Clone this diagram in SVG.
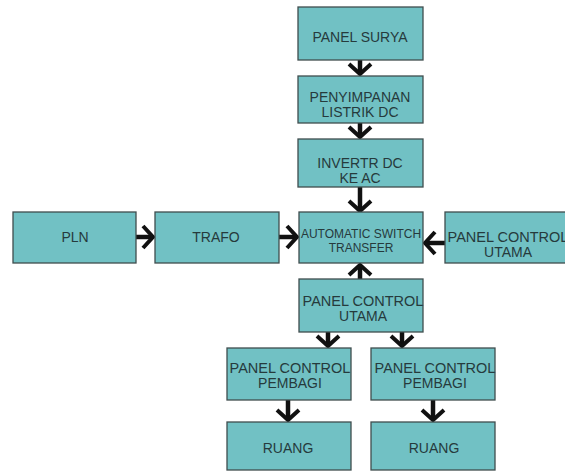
<svg xmlns="http://www.w3.org/2000/svg" width="565" height="472" viewBox="0 0 565 472">
<defs>
<style>
.box{fill:#71c1c4;stroke:#3f4d4e;stroke-width:1.3}
.t{font-family:"Liberation Sans",Arial,sans-serif;font-size:14px;fill:#263a3c;text-anchor:middle}
.s{font-size:12px}
.w{font-size:14.5px}
.c{stroke:#111;stroke-width:4.5;fill:none}
</style>
<marker id="ah" markerUnits="userSpaceOnUse" markerWidth="30" markerHeight="30" viewBox="-15 -15 30 30" refX="0" refY="0" orient="auto">
<polyline points="-10,-11 0,0 -10,11" fill="none" stroke="#111" stroke-width="4" stroke-linejoin="miter"/>
</marker>
</defs>
<rect width="565" height="472" fill="#ffffff"/>
<g id="connectors">
<line class="c" x1="360" y1="60" x2="360" y2="74" marker-end="url(#ah)"/>
<line class="c" x1="360" y1="123" x2="360" y2="137" marker-end="url(#ah)"/>
<line class="c" x1="360" y1="187" x2="360" y2="211" marker-end="url(#ah)"/>
<line class="c" x1="136" y1="237" x2="153" y2="237" marker-end="url(#ah)"/>
<line class="c" x1="279" y1="237" x2="297" y2="237" marker-end="url(#ah)"/>
<line class="c" x1="446" y1="243" x2="425" y2="243" marker-end="url(#ah)"/>
<line class="c" x1="360" y1="286" x2="360" y2="265" marker-end="url(#ah)"/>
<line class="c" x1="328" y1="322" x2="328" y2="346" marker-end="url(#ah)"/>
<line class="c" x1="402" y1="322" x2="402" y2="346" marker-end="url(#ah)"/>
<line class="c" x1="288" y1="400" x2="288" y2="420" marker-end="url(#ah)"/>
<line class="c" x1="433" y1="400" x2="433" y2="420" marker-end="url(#ah)"/>
</g>
<g id="panel-surya"><rect class="box" x="298" y="7" width="125" height="53"/><text class="t" x="360" y="42">PANEL SURYA</text></g>
<g id="penyimpanan"><rect class="box" x="298" y="76" width="125" height="47"/><text class="t" x="360" y="102">PENYIMPANAN</text><text class="t" x="360" y="117">LISTRIK DC</text></g>
<g id="inverter"><rect class="box" x="298" y="139" width="125" height="48"/><text class="t" x="360" y="168">INVERTR DC</text><text class="t" x="360" y="183">KE AC</text></g>
<g id="pln"><rect class="box" x="13" y="212" width="123" height="51"/><text class="t" x="75" y="242">PLN</text></g>
<g id="trafo"><rect class="box" x="155" y="212" width="124" height="51"/><text class="t" x="216" y="242">TRAFO</text></g>
<g id="ats"><rect class="box" x="299" y="212" width="124" height="51"/><text class="t s" x="361" y="238">AUTOMATIC SWITCH</text><text class="t s" x="361" y="252">TRANSFER</text></g>
<g id="panel-control-utama-right"><rect class="box" x="445" y="212" width="124" height="51"/><text class="t w" x="508" y="242">PANEL CONTROL</text><text class="t" x="508" y="257">UTAMA</text></g>
<g id="panel-control-utama"><rect class="box" x="299" y="279" width="124" height="53"/><text class="t w" x="363" y="306">PANEL CONTROL</text><text class="t" x="363" y="321">UTAMA</text></g>
<g id="pembagi-left"><rect class="box" x="227" y="348" width="124" height="52"/><text class="t w" x="290" y="373">PANEL CONTROL</text><text class="t" x="290" y="388">PEMBAGI</text></g>
<g id="pembagi-right"><rect class="box" x="371" y="348" width="124" height="52"/><text class="t w" x="435" y="373">PANEL CONTROL</text><text class="t" x="435" y="388">PEMBAGI</text></g>
<g id="ruang-left"><rect class="box" x="227" y="422" width="124" height="48"/><text class="t" x="288" y="453">RUANG</text></g>
<g id="ruang-right"><rect class="box" x="371" y="422" width="124" height="48"/><text class="t" x="434" y="453">RUANG</text></g>
</svg>
